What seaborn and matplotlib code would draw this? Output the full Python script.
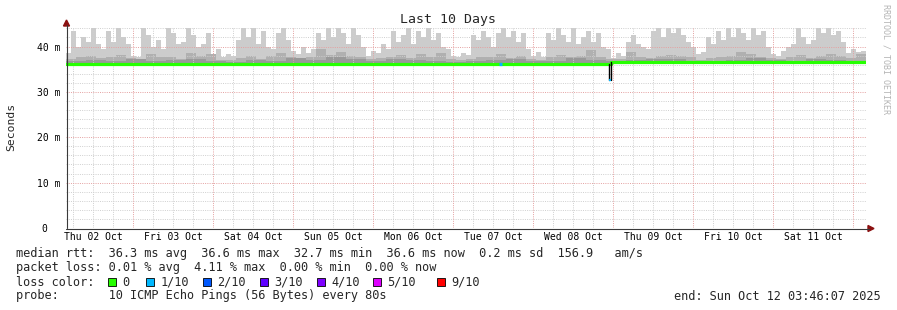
import numpy as np
import pandas as pd
import matplotlib
matplotlib.use("Agg")
import matplotlib.pyplot as plt
import matplotlib.dates as mdates
from matplotlib.patches import Rectangle, Polygon
from matplotlib.lines import Line2D
import seaborn as sns

sns.set_theme(style="white")
plt.rcParams["font.family"] = ["DejaVu Sans Mono", "DejaVu Sans"]

# ---------------- data ----------------
START = "2025-10-02 03:46:07"
END = "2025-10-12 03:46:07"

# outer smoke (max ping), 90-minute bins, ms
smoke_max = [38.5, 43.5, 40, 42, 41, 44, 40.5, 39.5, 43.5, 41,
             44, 42, 40.5, 38, 37.8, 44, 42.5, 40, 41.5, 39.5,
             44, 43, 40.5, 41, 44, 42.5, 40, 40.5, 43, 38,
             39.5, 37.8, 38.3, 38, 41.5, 44, 42, 44, 40.5, 43.5,
             40, 39.5, 43, 44, 41.5, 39, 38.3, 40, 38.5, 39.5,
             43, 41.5, 44, 42, 44, 43, 40.5, 44, 42.5, 40,
             38, 39, 38.5, 40.5, 39.5, 43.5, 41, 42.5, 44, 40.5,
             43.5, 42, 44, 41.5, 43, 40, 39.5, 38, 37.8, 38.5,
             38.2, 42.5, 41.5, 43.5, 42, 40, 43, 44, 42, 43.5,
             41, 43, 39.5, 38, 38.8, 37.8, 43, 41.5, 44, 42.5,
             41, 44, 40.5, 42, 43.5, 41, 43, 40, 39.5, 37.5,
             38.5, 38, 41, 42.5, 40.5, 40, 39.5, 43.5, 44, 42,
             44, 43, 44, 42.5, 41, 40, 38.3, 38.8, 42, 40.5,
             43.5, 41.5, 44, 42, 44, 43, 41.5, 44, 42.5, 43.5,
             40, 38.3, 38, 39, 40, 40.5, 44, 42, 40.5, 41.5,
             44, 43, 44, 42.5, 43.5, 41, 38.5, 39.5, 38.8, 39]

# inner smoke, 3-hour bins, ms
smoke_mid = [37.3, 37.6, 38.0, 37.4, 37.8, 38.2, 37.4, 37.0, 38.3, 37.6,
             37.8, 37.2, 38.5, 37.9, 38.4, 37.0, 37.1, 37.5, 37.9, 37.3,
             38.0, 38.6, 37.8, 37.2, 37.6, 39.5, 38.2, 38.8, 37.9, 37.6,
             37.2, 37.4, 37.6, 38.1, 37.5, 38.3, 37.7, 38.5, 37.3, 37.0,
             37.3, 37.8, 37.6, 38.4, 37.5, 37.9, 37.2, 37.0, 37.8, 38.2,
             37.6, 37.9, 39.2, 37.8, 37.2, 37.3, 38.8, 37.8, 37.5, 38.0,
             38.2, 37.9, 37.6, 37.1, 37.5, 37.8, 38.0, 38.8, 38.3, 37.8,
             37.4, 37.2, 37.6, 38.2, 37.5, 37.9, 38.4, 38.0, 37.5, 38.3]

# core smoke, 6-hour bins, ms
smoke_core = [36.9, 37.1, 36.8, 37.2, 36.9, 37.0, 37.3, 36.8, 36.7, 37.1,
              36.9, 37.4, 37.0, 37.6, 37.2, 36.9, 37.3, 37.1, 36.9, 36.7,
              36.8, 37.0, 37.2, 36.8, 36.9, 37.4, 37.1, 36.8, 37.0, 37.3,
              37.2, 36.9, 36.8, 37.1, 37.5, 37.0, 36.9, 37.2, 37.0, 36.8]

# median rtt, 90-minute bins, ms
median_rtt = [36.2, 36.2, 36.2, 36.2, 36.2, 36.2, 36.2, 36.2, 36.2, 36.2,
              36.2, 36.2, 36.2, 36.2, 36.2, 36.2, 36.2, 36.2, 36.2, 36.2,
              36.2, 36.2, 36.2, 36.2, 36.2, 36.2, 36.2, 36.2, 36.2, 36.2,
              36.2, 36.2, 36.2, 36.2, 36.2, 36.2, 36.2, 36.2, 36.2, 36.2,
              36.2, 36.2, 36.2, 36.2, 36.2, 36.2, 36.2, 36.2, 36.2, 36.2,
              36.2, 36.2, 36.2, 36.2, 36.2, 36.2, 36.2, 36.2, 36.2, 36.2,
              36.2, 36.2, 36.2, 36.2, 36.2, 36.2, 36.2, 36.2, 36.2, 36.2,
              36.2, 36.2, 36.2, 36.2, 36.2, 36.2, 36.2, 36.2, 36.2, 36.2,
              36.2, 36.2, 36.2, 36.2, 36.2, 36.2, 36.2, 36.2, 36.2, 36.2,
              36.2, 36.2, 36.2, 36.2, 36.2, 36.2, 36.2, 36.2, 36.2, 36.2,
              36.2, 36.2, 36.2, 36.2, 36.2, 36.2, 36.2, 36.2, 36.2, 36.6,
              36.6, 36.6, 36.6, 36.6, 36.6, 36.6, 36.6, 36.6, 36.6, 36.6,
              36.6, 36.6, 36.6, 36.6, 36.6, 36.6, 36.6, 36.6, 36.6, 36.6,
              36.6, 36.6, 36.6, 36.6, 36.6, 36.6, 36.6, 36.6, 36.6, 36.6,
              36.6, 36.6, 36.6, 36.6, 36.6, 36.6, 36.6, 36.6, 36.6, 36.6,
              36.6, 36.6, 36.6, 36.6, 36.6, 36.6, 36.6, 36.6, 36.6, 36.6]

# the one short dip with 1/10 loss, and a second 1/10 loss sample
dip_time = "2025-10-08 23:00"
dip_rtt = 32.7
dip_before, dip_after = 36.2, 36.6
loss_time = "2025-10-07 14:05"

y_ticks = [0, 10, 20, 30, 40]
y_tick_labels = ["0  ", "10 m", "20 m", "30 m", "40 m"]

loss_labels = ["0", "1/10", "2/10", "3/10", "4/10", "5/10", "9/10"]
loss_colors = ["#26ff00", "#00b8ff", "#0059ff", "#5e00ff", "#7e00ff", "#dd00ff", "#ff0000"]

legend_rtt = "median rtt:  36.3 ms avg  36.6 ms max  32.7 ms min  36.6 ms now  0.2 ms sd  156.9   am/s"
legend_loss = "packet loss: 0.01 % avg  4.11 % max  0.00 % min  0.00 % now"
legend_probe = "probe:       10 ICMP Echo Pings (56 Bytes) every 80s"
legend_end = "end: Sun Oct 12 03:46:07 2025"

# ---------------- figure ----------------
W, H = 897, 310
fig = plt.figure(figsize=(W / 100, H / 100), dpi=100)
fig.patch.set_facecolor("white")


def fx(x):
    return x / W


def fy(y):
    return 1 - y / H


ax = fig.add_axes([fx(66), fy(228), (866 - 66) / W, (228 - 27.5) / H])
ax.set_facecolor("white")

start, end = pd.Timestamp(START), pd.Timestamp(END)


def step_series(values, freq):
    t = pd.date_range(start, periods=len(values), freq=freq)
    t = t.append(pd.DatetimeIndex([end]))
    v = list(values) + [values[-1]]
    return t, np.array(v, dtype=float)


t_med, v_med = step_series(median_rtt, "90min")
t_max, v_max = step_series(smoke_max, "90min")
t_mid, v_mid = step_series(smoke_mid, "3h")
t_core, v_core = step_series(smoke_core, "6h")

med_on_mid = np.interp(mdates.date2num(t_mid), mdates.date2num(t_med), v_med)
med_on_core = np.interp(mdates.date2num(t_core), mdates.date2num(t_med), v_med)

ax.fill_between(t_max, v_med, v_max, step="post", color="#cccccc", lw=0, zorder=1)
ax.fill_between(t_mid, med_on_mid, np.maximum(v_mid, med_on_mid), step="post",
                color="#b0b0b0", lw=0, zorder=1.1)
ax.fill_between(t_core, med_on_core, np.maximum(v_core, med_on_core), step="post",
                color="#999999", lw=0, zorder=1.2)

ax.set_xlim(start, end)
ax.set_ylim(0, 44.2)

# grid
minor_col = "#cfcfcf"
major_col = "#e4a0a0"
dots = (0, (1, 1.3))
for yv in np.arange(2, 44.2, 2):
    if yv % 10:
        ax.axhline(yv, color=minor_col, lw=0.7, ls=dots, zorder=3)
for yv in [10, 20, 30, 40]:
    ax.axhline(yv, color=major_col, lw=0.7, ls=dots, zorder=3.1)
for tv in pd.date_range("2025-10-02 06:00", end, freq="6h"):
    if tv.hour != 0:
        ax.axvline(tv, color=minor_col, lw=0.7, ls=dots, zorder=3)
for tv in pd.date_range("2025-10-03 00:00", end, freq="1D"):
    ax.axvline(tv, color=major_col, lw=0.7, ls=dots, zorder=3.1)

# median line (seaborn)
df_med = pd.DataFrame({"time": t_med, "rtt": v_med})
sns.lineplot(data=df_med, x="time", y="rtt", drawstyle="steps-post",
             color=loss_colors[0], lw=2.3, ax=ax, zorder=5)

# dip
dt = pd.Timedelta(minutes=22)
td = pd.Timestamp(dip_time)
ax.plot([td - dt, td - dt], [dip_before, dip_rtt], color="black", lw=1.0, zorder=6)
ax.plot([td + dt, td + dt], [dip_rtt, dip_after], color="black", lw=1.0, zorder=6)
ax.plot([td - dt, td + dt], [dip_rtt, dip_rtt], color=loss_colors[1], lw=1.6,
        zorder=6, solid_capstyle="butt")
tl = pd.Timestamp(loss_time)
ax.plot([tl - dt, tl + dt], [dip_before, dip_before], color=loss_colors[1], lw=2.3,
        zorder=6, solid_capstyle="butt")

for s in ax.spines.values():
    s.set_visible(False)
ax.grid(False)

# ticks
ax.set_yticks(y_ticks)
ax.set_yticklabels(y_tick_labels)
noons = pd.date_range("2025-10-02 12:00", "2025-10-11 12:00", freq="1D")
ax.set_xticks(noons)
ax.set_xticklabels([d.strftime("%a %d %b") for d in noons])
ax.tick_params(axis="both", length=0, labelsize=7.0, colors="black")
ax.tick_params(axis="y", pad=4.3)
ax.tick_params(axis="x", pad=3.2)
ax.set_xlabel("")
ax.set_ylabel("")

# axes lines and arrows
axis_col = "#3a3a3a"
arrow_col = "#8b1010"
fig.add_artist(Line2D([fx(66.5), fx(66.5)], [fy(228), fy(25)], color=axis_col, lw=0.8))
fig.add_artist(Line2D([fx(66), fx(869)], [fy(228.5), fy(228.5)], color=axis_col, lw=0.8))
fig.add_artist(Polygon([[fx(63.5), fy(26)], [fx(69.5), fy(26)], [fx(66.5), fy(20)]],
                       closed=True, color=arrow_col, transform=fig.transFigure))
fig.add_artist(Polygon([[fx(868), fy(225.5)], [fx(868), fy(231.5)], [fx(874), fy(228.5)]],
                       closed=True, color=arrow_col, transform=fig.transFigure))

# texts
fig.text(fx(448), fy(19), "Last 10 Days", ha="center", va="center", fontsize=9.5)
fig.text(fx(11), fy(127), "Seconds", ha="center", va="center", rotation=90, fontsize=8.2)
fig.text(fx(886), fy(4), "RRDTOOL / TOBI OETIKER", ha="center", va="top",
         rotation=270, fontsize=6.0, color="#b4b4b4")

lfs = 8.55
fig.text(fx(16), fy(254), legend_rtt, ha="left", va="center", fontsize=lfs)
fig.text(fx(16), fy(268), legend_loss, ha="left", va="center", fontsize=lfs)
fig.text(fx(16), fy(282), "loss color:", ha="left", va="center", fontsize=lfs)
sq_x = [108, 146, 203, 260, 317, 373, 437]
for x0, lab, col in zip(sq_x, loss_labels, loss_colors):
    fig.add_artist(Rectangle((fx(x0), fy(286)), 8 / W, 8 / H, facecolor=col,
                             edgecolor="black", lw=0.6, transform=fig.transFigure))
    fig.text(fx(x0 + 14.5), fy(282), lab, ha="left", va="center", fontsize=lfs)
fig.text(fx(16), fy(296), legend_probe, ha="left", va="center", fontsize=lfs)
fig.text(fx(881), fy(296), legend_end, ha="right", va="center", fontsize=lfs)

fig.savefig("out.png", dpi=100, facecolor="white")
